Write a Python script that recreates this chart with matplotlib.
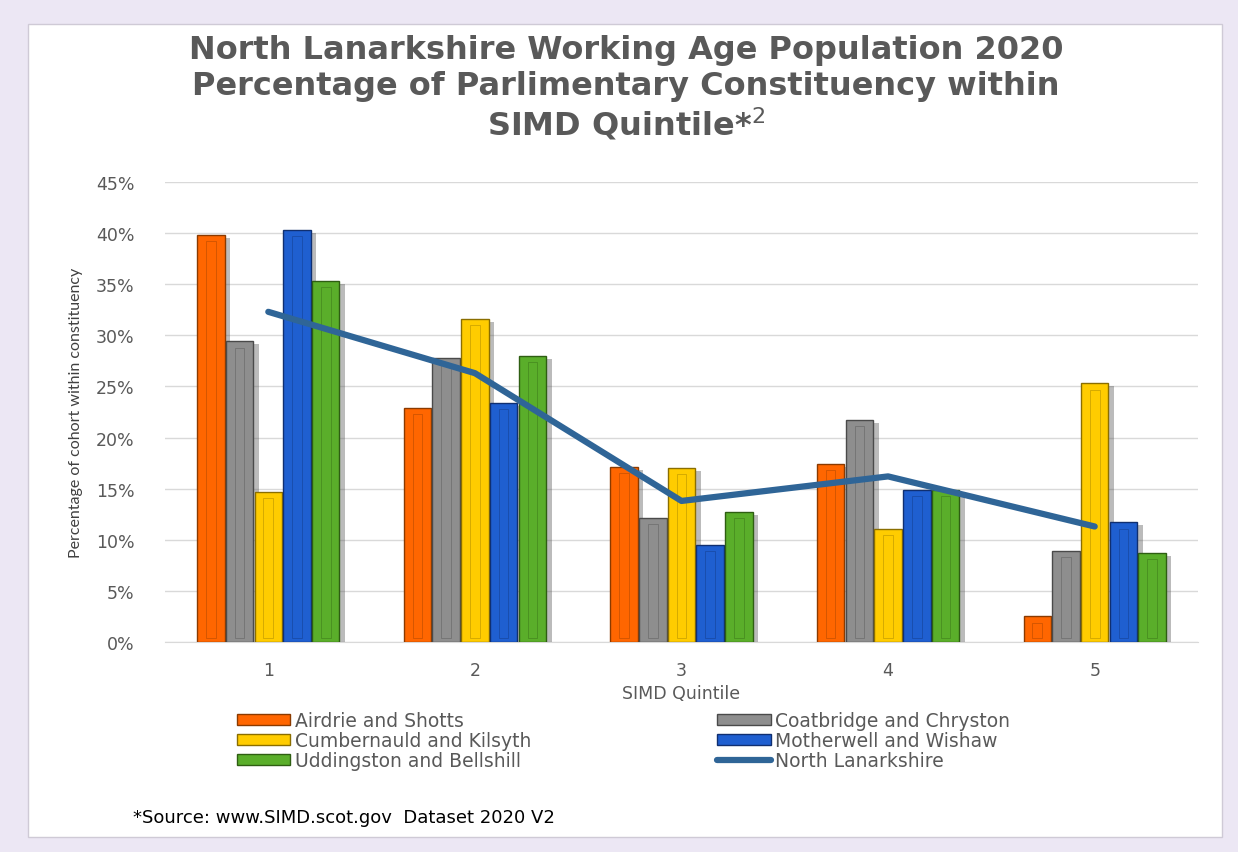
import matplotlib
matplotlib.use("Agg")
import matplotlib.pyplot as plt
import matplotlib.patheffects as pe
from matplotlib.patches import Rectangle
from matplotlib.lines import Line2D
import numpy as np

quintiles = ["1", "2", "3", "4", "5"]
series_names = ["Airdrie and Shotts", "Coatbridge and Chryston", "Cumbernauld and Kilsyth",
                "Motherwell and Wishaw", "Uddingston and Bellshill"]
airdrie = [39.8, 22.9, 17.1, 17.4, 2.5]
coatbridge = [29.4, 27.8, 12.1, 21.7, 8.9]
cumbernauld = [14.7, 31.6, 17.0, 11.1, 25.3]
motherwell = [40.3, 23.4, 9.5, 14.9, 11.7]
uddingston = [35.3, 28.0, 12.7, 14.9, 8.7]
north_lanarkshire = [32.3, 26.3, 13.8, 16.2, 11.3]
yticks = [0, 5, 10, 15, 20, 25, 30, 35, 40, 45]

colors = ["#FF6600", "#8E8E8E", "#FFCC00", "#1F5FD0", "#5AAE2A"]
edges = ["#8A3A00", "#4A4A4A", "#8A6E00", "#102F70", "#2E5E12"]
line_color = "#2F6597"
text_color = "#595959"

fig = plt.figure(figsize=(12.38, 8.53), dpi=100)
fig.patch.set_facecolor("#ECE7F4")
W, H = 1238, 853
# inner white panel
panel = Rectangle((28 / W, 1 - 838 / H), (1222 - 28) / W, (838 - 25) / H,
                  transform=fig.transFigure, facecolor="white", edgecolor="#CFCAD6",
                  linewidth=1.0, zorder=-5)
fig.patches.append(panel)

ax = fig.add_axes([165 / W, 1 - 643 / H, (1198 - 165) / W, (643 - 183) / H])
ax.set_facecolor("none")
ax.set_zorder(2)

data = [airdrie, coatbridge, cumbernauld, motherwell, uddingston]
x = np.arange(len(quintiles))
bw = 0.133
gap = 0.139
for i, vals in enumerate(data):
    pos = x + (i - 2) * gap
    ax.bar(pos, vals, width=bw, color=colors[i], edgecolor=edges[i], linewidth=1.0,
           zorder=3, label=series_names[i],
           path_effects=[pe.SimplePatchShadow(offset=(4, -2), alpha=0.4, shadow_rgbFace="#555555"), pe.Normal()])
    # inner thin outline detail
    ax.bar(pos, [max(v - 1.0, 0) for v in vals], width=bw * 0.35, bottom=0.4,
           color="none", edgecolor=edges[i], linewidth=0.5, alpha=0.5, zorder=4)

ax.plot(x, north_lanarkshire, color=line_color, linewidth=4.5, zorder=5,
        solid_capstyle="round", label="North Lanarkshire")

ax.set_xlim(-0.5, 4.5)
ax.set_ylim(0, 45)
ax.set_yticks(yticks)
ax.set_yticklabels([f"{t}%" for t in yticks], fontsize=12.5, color=text_color, family="DejaVu Sans")
ax.set_xticks(x)
ax.set_xticklabels(quintiles, fontsize=12.5, color=text_color, family="DejaVu Sans")
ax.tick_params(axis="y", length=0, pad=22)
ax.tick_params(axis="x", length=0, pad=14)
ax.yaxis.grid(True, color="#D9D9D9", linewidth=1.0, zorder=0)
ax.set_axisbelow(True)
for s in ["top", "right", "left"]:
    ax.spines[s].set_visible(False)
ax.spines["bottom"].set_color("#D9D9D9")

ax.set_xlabel("SIMD Quintile", fontsize=12.5, color=text_color, family="DejaVu Sans", labelpad=3)
fig.text(76 / W, 1 - 413 / H, "Percentage of cohort within constituency", rotation=90,
         ha="center", va="center", fontsize=11.5, color="#404040", family="Lato")

title_lines = ["North Lanarkshire Working Age Population 2020",
               "Percentage of Parlimentary Constituency within",
               "SIMD Quintile*$^{2}$"]
title_y = [50, 87, 124]
for line, yy in zip(title_lines, title_y):
    fig.text(626 / W, 1 - yy / H, line, ha="center", va="center", fontsize=23,
             fontweight="bold", color=text_color, family="DejaVu Sans")

# legend (ordered for column-wise filling)
handles = []
for i in range(5):
    handles.append(Rectangle((0, 0), 1, 1, facecolor=colors[i], edgecolor=edges[i], linewidth=1.0))
handles.append(Line2D([0], [0], color=line_color, linewidth=4.5, solid_capstyle="round"))
labels = series_names + ["North Lanarkshire"]
order = [0, 2, 4, 1, 3, 5]
leg = fig.legend([handles[k] for k in order], [labels[k] for k in order],
                 loc="upper left", bbox_to_anchor=(237 / W, 1 - 712 / H), ncol=2,
                 frameon=False, handlelength=2.85, handleheight=0.55, borderpad=0,
                 borderaxespad=0, handletextpad=0.25, columnspacing=9.9, labelspacing=0.05,
                 prop={"family": "DejaVu Sans", "size": 13.5})
for t in leg.get_texts():
    t.set_color(text_color)

fig.text(133 / W, 1 - 818 / H, "*Source: www.SIMD.scot.gov  Dataset 2020 V2",
         ha="left", va="center", fontsize=13, color="#000000", family="DejaVu Sans")

fig.savefig("out.png", dpi=100, facecolor=fig.get_facecolor())
